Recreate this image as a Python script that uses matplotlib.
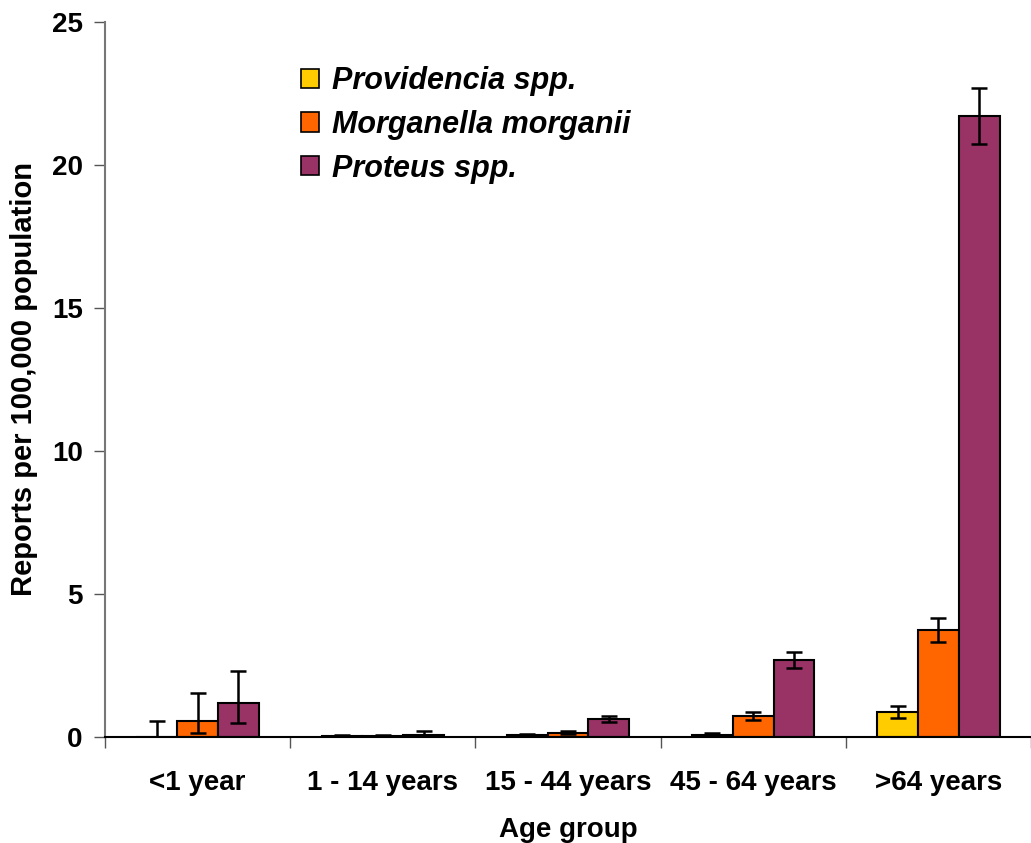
# Infection reports by age group
import numpy as np
import matplotlib.pyplot as plt

plt.rcParams['font.family'] = ['Liberation Sans', 'DejaVu Sans']

age_groups = ['<1 year', '1 - 14 years', '15 - 44 years', '45 - 64 years', '>64 years']
species = ['Providencia spp.', 'Morganella morganii', 'Proteus spp.']
colors = ['#FFCC00', '#FF6600', '#993366']

# rate, lower and upper confidence limits per species
rates = [
    [0.0, 0.03, 0.06, 0.08, 0.87],
    [0.56, 0.04, 0.15, 0.73, 3.74],
    [1.19, 0.08, 0.63, 2.69, 21.71],
]
lower = [
    [0.0, 0.01, 0.03, 0.04, 0.66],
    [0.14, 0.02, 0.10, 0.59, 3.32],
    [0.49, 0.02, 0.53, 2.41, 20.73],
]
upper = [
    [0.56, 0.06, 0.09, 0.13, 1.08],
    [1.54, 0.07, 0.20, 0.87, 4.16],
    [2.31, 0.22, 0.73, 2.97, 22.69],
]

fig = plt.figure(figsize=(10.31, 8.43), dpi=100)
ax = fig.add_axes([0.1018, 0.1257, 0.8982, 0.8483])

x = np.arange(len(age_groups))
w = 0.22
for i in range(3):
    r = np.array(rates[i])
    err = [r - np.array(lower[i]), np.array(upper[i]) - r]
    ax.bar(x + (i - 1) * w, r, w, color=colors[i], edgecolor='black', linewidth=1.5,
           yerr=err, label=species[i],
           error_kw=dict(ecolor='black', elinewidth=1.8, capsize=5.5, capthick=1.8))

ax.set_xlim(-0.5, 4.45)
ax.set_ylim(0, 25)
ax.set_yticks([0, 5, 10, 15, 20, 25])
ax.set_xticks(x)
ax.set_xticklabels(age_groups)
ax.set_xticks(np.arange(-0.5, 5, 1), minor=True)
ax.tick_params(axis='x', which='major', length=0, pad=24, labelsize=20)
ax.tick_params(axis='x', which='minor', length=8, width=1, color='#555555', direction='out')
ax.tick_params(axis='y', length=8, width=1, color='#555555', direction='out', labelsize=20, pad=8)
for lab in ax.get_xticklabels() + ax.get_yticklabels():
    lab.set_fontweight('bold')

ax.spines['top'].set_visible(False)
ax.spines['right'].set_visible(False)
ax.spines['left'].set_color('#777777')
ax.spines['left'].set_linewidth(1.5)
ax.spines['bottom'].set_linewidth(1.5)

ax.set_ylabel('Reports per 100,000 population', fontsize=21, fontweight='bold', labelpad=10)
ax.set_xlabel('Age group', fontsize=20, fontweight='bold', labelpad=15)

leg = ax.legend(loc='upper left', bbox_to_anchor=(301 / 1031, 1 - 66 / 843),
                bbox_transform=fig.transFigure, frameon=False,
                prop={'size': 22, 'weight': 'bold', 'style': 'italic'},
                handlelength=0.6, handleheight=0.6, handletextpad=0.4,
                labelspacing=0.45, borderpad=0, borderaxespad=0)
for h in leg.legend_handles:
    h.set_linewidth(1.2)

fig.savefig('out.png', dpi=100)
